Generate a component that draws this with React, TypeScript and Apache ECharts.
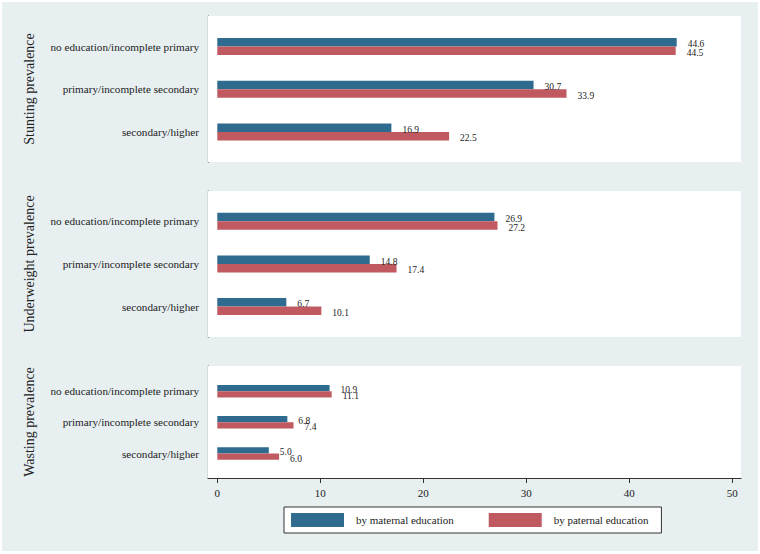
import React, { useEffect, useRef } from "react";
import * as echarts from "echarts";

const categories = [
  "no education/incomplete primary",
  "primary/incomplete secondary",
  "secondary/higher",
];
const panelTitles = ["Stunting prevalence", "Underweight prevalence", "Wasting prevalence"];
const seriesNames = ["by maternal education", "by paternal education"];
const stuntingMaternal = [44.6, 30.7, 16.9];
const stuntingPaternal = [44.5, 33.9, 22.5];
const underweightMaternal = [26.9, 14.8, 6.7];
const underweightPaternal = [27.2, 17.4, 10.1];
const wastingMaternal = [10.9, 6.8, 5.0];
const wastingPaternal = [11.1, 7.4, 6.0];
const xTicks = [0, 10, 20, 30, 40, 50];

const BLUE = "#2f6b8e";
const RED = "#c05a60";
const BG = "#e7eff1";
const FONT = "Liberation Serif";

export default function App() {
  const ref = useRef<HTMLDivElement>(null);
  useEffect(() => {
    document.body.style.margin = "0";
    if (!ref.current) return;
    const chart = echarts.init(ref.current, null, { renderer: "svg" });

    const left = 208;
    const right = 19;
    const xMin = -0.903;
    const xMax = 50.84;
    const bgGrids = [
      { top: 16, height: 146 },
      { top: 191, height: 146 },
      { top: 366, height: 112 },
    ];
    const dataGrids = [
      { top: 25.2, height: 128.2 },
      { top: 200, height: 127.8 },
      { top: 375.6, height: 93.5 },
    ];
    const panelData = [
      [stuntingMaternal, stuntingPaternal],
      [underweightMaternal, underweightPaternal],
      [wastingMaternal, wastingPaternal],
    ];

    const grid: any[] = [];
    const xAxis: any[] = [];
    const yAxis: any[] = [];
    const series: any[] = [];

    bgGrids.forEach((g, i) => {
      grid.push({
        left, right, top: g.top, height: g.height,
        show: true, backgroundColor: "#ffffff", borderWidth: 0, z: 1,
      });
      const isBottom = i === 2;
      xAxis.push({
        type: "value", gridIndex: i, min: xMin, max: xMax, position: "bottom",
        show: isBottom,
        axisLine: { show: true, onZero: false, lineStyle: { color: "#333", width: 1.2 } },
        axisTick: { show: true, length: 5, customValues: xTicks, lineStyle: { color: "#333" } },
        axisLabel: {
          show: true, customValues: xTicks, margin: 9, fontSize: 11,
          fontFamily: FONT, color: "#222",
        },
        splitLine: { show: false },
      });
      yAxis.push({
        type: "value", gridIndex: i, min: 0, max: 1, position: "left",
        name: panelTitles[i], nameLocation: "middle", nameRotate: 90, nameGap: 172,
        nameTextStyle: { fontSize: 14, fontFamily: FONT, color: "#222" },
        axisLine: { show: true, onZero: false, lineStyle: { color: "#333", width: 1.2 } },
        axisTick: { show: false },
        axisLabel: { show: false },
        splitLine: { show: false },
      });
    });

    dataGrids.forEach((g, i) => {
      const gi = i + 3;
      grid.push({ left, right, top: g.top, height: g.height, show: false, z: 2 });
      xAxis.push({ type: "value", gridIndex: gi, min: xMin, max: xMax, show: false });
      yAxis.push({
        type: "category", gridIndex: gi, data: categories, inverse: true,
        axisLine: { show: false },
        axisTick: { show: true, alignWithLabel: true, length: 7, lineStyle: { color: "#333" } },
        axisLabel: { margin: 9, fontSize: 11.2, fontFamily: FONT, color: "#222" },
        splitLine: { show: true, alignWithLabel: true, lineStyle: { color: "#e9eff1", width: 1 } },
      });
      [0, 1].forEach((s) => {
        series.push({
          type: "bar",
          name: seriesNames[s],
          xAxisIndex: gi,
          yAxisIndex: gi,
          data: panelData[i][s],
          barWidth: "20%",
          barGap: "0%",
          itemStyle: { color: s === 0 ? BLUE : RED },
          label: {
            show: true, position: "right", distance: 11, offset: [0, 2],
            fontSize: 9.5, fontFamily: FONT, color: "#222",
            formatter: (p: any) => Number(p.value).toFixed(1),
          },
          z: 3,
        });
      });
    });

    chart.setOption({
      animation: false,
      backgroundColor: "#ffffff",
      textStyle: { fontFamily: FONT },
      graphic: {
        elements: [
          {
            type: "rect", left: 2, top: 2, z: -100,
            shape: { x: 0, y: 0, width: 756, height: 549 },
            style: { fill: BG },
            silent: true,
          },
        ],
      },
      legend: {
        data: seriesNames,
        left: 284, top: 507,
        orient: "horizontal",
        icon: "rect",
        itemWidth: 53, itemHeight: 14, itemGap: 35,
        padding: [6, 13, 6, 7],
        borderColor: "#333", borderWidth: 1, backgroundColor: "#ffffff",
        textStyle: { fontSize: 11, fontFamily: FONT, color: "#222", padding: [0, 0, 0, 7] },
        selectedMode: false,
      },
      grid, xAxis, yAxis, series,
    });
    return () => chart.dispose();
  }, []);
  return <div ref={ref} style={{ width: 760, height: 554 }} />;
}
